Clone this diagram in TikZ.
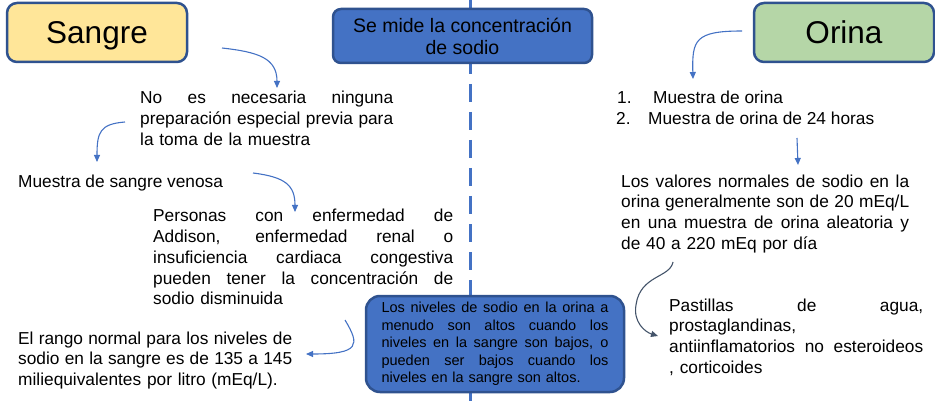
\documentclass[tikz,border=0pt]{standalone}
\usepackage{fontspec}
\setmainfont{Liberation Sans}
\usetikzlibrary{arrows.meta}
\definecolor{bdr}{HTML}{2F528F}
\definecolor{accblue}{HTML}{4472C4}
\definecolor{yel}{HTML}{FFE699}
\definecolor{grn}{HTML}{B5D6A7}
\definecolor{slate}{HTML}{44546A}
\newcommand\jl[2]{{\spaceskip=0.278em plus 1fil\xspaceskip=\spaceskip\makebox[#1][s]{#2}}}
\begin{document}
\begin{tikzpicture}[x=1pt,y=-1pt,
 title/.style={draw=bdr, line width=2.5pt, rounded corners=10pt, minimum width=180pt, minimum height=59pt, font=\fontsize{31.5}{36}\selectfont, text height=22.6pt, text depth=0pt, inner sep=0},
 body/.style={font=\fontsize{17.3}{20.7}\selectfont, inner sep=0, anchor=base west, align=left},
 conn/.style={draw=accblue, line width=1.1pt, -{Triangle[length=7pt,width=6pt]}},
 bluebox/.style={draw=bdr, fill=accblue, line width=2.5pt},
]
\useasboundingbox (0,0) rectangle (935,401);
\coordinate (dtop) at (470.5,0);
\coordinate (dbot) at (470.5,401);
\draw[accblue, line width=2.5pt, dash pattern=on 18pt off 10pt] (dtop) -- (dbot);

\node[title, fill=yel] (sangre) at (97,32.5) {Sangre};
\node[title, fill=grn] (orina) at (844,32.5) {Orina};
\node[bluebox, rounded corners=8pt, minimum width=259pt, minimum height=54pt, align=center, font=\fontsize{19.5}{22}\selectfont, inner sep=0] (mide) at (462.5,36) {Se mide la concentración\\de sodio};

\node[body, text width=253pt] (prep) at (140,104) {\jl{253pt}{No es necesaria ninguna}\\\jl{253pt}{preparación especial previa para}\\la toma de la muestra};
\node[body] (venosa) at (18,187) {Muestra de sangre venosa};
\node[body, text width=300pt] (addison) at (153,222) {\jl{300pt}{Personas con enfermedad de}\\\jl{300pt}{Addison, enfermedad renal o}\\\jl{300pt}{insuficiencia cardiaca congestiva}\\\jl{300pt}{pueden tener la concentración de}\\sodio disminuida};
\node[body, text width=274pt] (rango) at (18,344) {\jl{274pt}{El rango normal para los niveles de}\\\jl{274pt}{sodio en la sangre es de 135 a 145}\\miliequivalentes por litro (mEq/L).};
\node[bluebox, rounded corners=14pt, text width=227pt, inner xsep=15.5pt, inner ysep=0pt, minimum height=96pt, align=left, font=\fontsize{14.5}{17.5}\selectfont] (niveles) at (495,344) {\jl{227pt}{Los niveles de sodio en la orina a}\\\jl{227pt}{menudo son altos cuando los}\\\jl{227pt}{niveles en la sangre son bajos, o}\\\jl{227pt}{pueden ser bajos cuando los}\\niveles en la sangre son altos.};

\node[body] (n1) at (617,104) {1.};
\node[body] (i1) at (653,104) {Muestra de orina};
\node[body] (n2) at (616,124.5) {2.};
\node[body] (i2) at (648,124.5) {Muestra de orina de 24 horas};
\node[body, text width=288pt] (valores) at (621,187) {\jl{288pt}{Los valores normales de sodio en la}\\\jl{288pt}{orina generalmente son de 20 mEq/L}\\\jl{288pt}{en una muestra de orina aleatoria y}\\de 40 a 220 mEq por día};
\node[body, text width=254pt] (pastillas) at (669,311) {\jl{254pt}{Pastillas de agua,}\\prostaglandinas,\\\jl{254pt}{antiinflamatorios no esteroideos}\\, corticoides};

\coordinate (a1s) at (222,48);  \coordinate (a1e) at (277,88);
\coordinate (a2s) at (125,122); \coordinate (a2e) at (97,162);
\coordinate (a3s) at (253,173); \coordinate (a3e) at (295,212);
\coordinate (a4s) at (345,320); \coordinate (a4e) at (306,354);
\coordinate (a5s) at (742,31);  \coordinate (a5e) at (693,79);
\coordinate (a6s) at (797,138); \coordinate (a6e) at (798,165);
\coordinate (a7s) at (673,262); \coordinate (a7m) at (636,305); \coordinate (a7e) at (658,336);

\draw[conn] (a1s) .. controls (258,52) and (277,58) .. (a1e);
\draw[conn] (a2s) .. controls (100,124) and (97,132) .. (a2e);
\draw[conn] (a3s) .. controls (285,177) and (295,185) .. (a3e);
\draw[conn] (a4s) .. controls (360,345) and (360,354) .. (a4e);
\draw[conn] (a5s) .. controls (695,31) and (692,40) .. (a5e);
\draw[conn] (a6s) -- (a6e);
\draw[conn, draw=slate] (a7s) .. controls (670,278) and (640,275) .. (a7m) .. controls (633,322) and (645,332) .. (a7e);
\end{tikzpicture}
\end{document}
